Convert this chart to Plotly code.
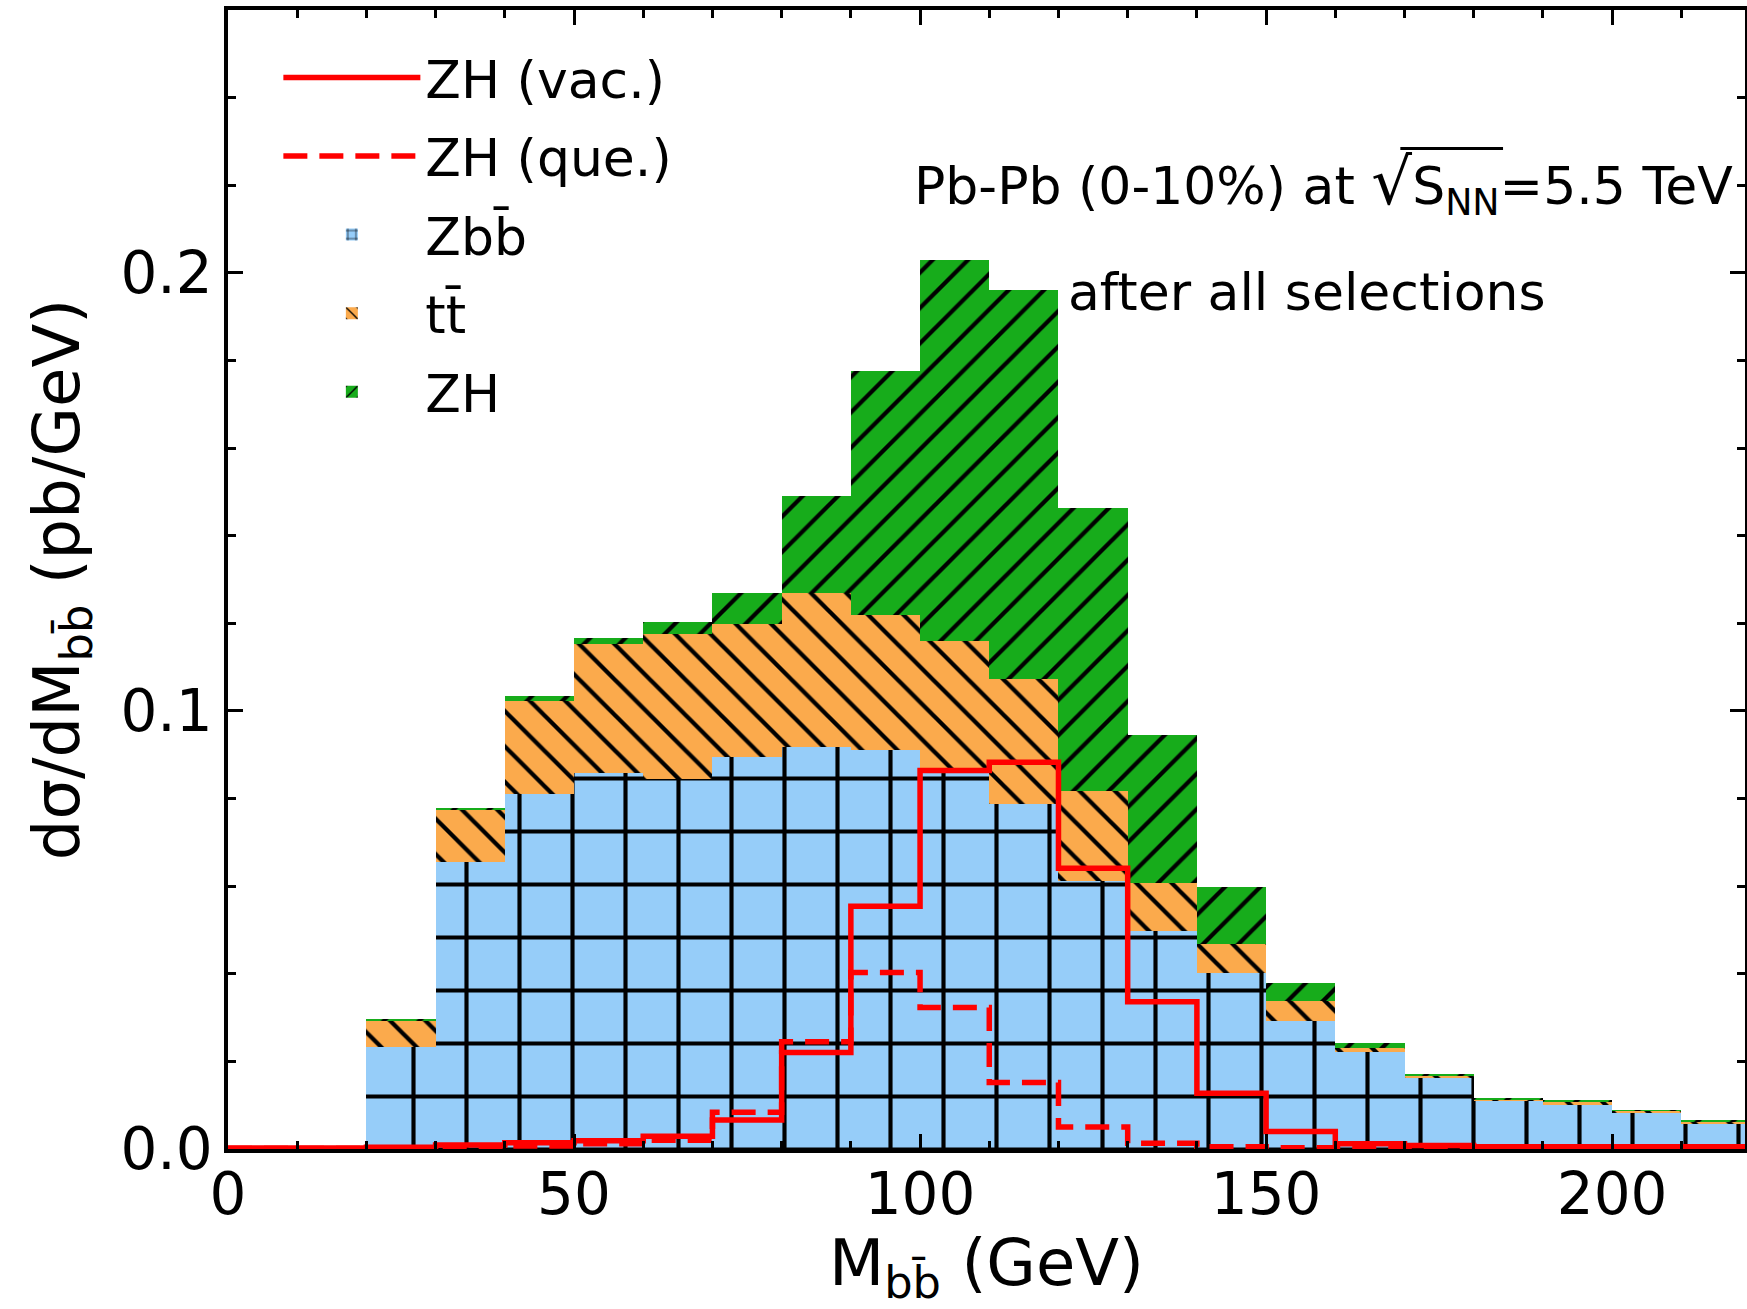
import plotly.graph_objects as go

# ---------------- data ----------------
bin_edges = [0, 10, 20, 30, 40, 50, 60, 70, 80, 90, 100, 110, 120, 130, 140, 150,
             160, 170, 180, 190, 200, 210, 220]

# stacked components (pb/GeV), bottom to top
zbb = [0.0, 0.0, 0.0232, 0.0656, 0.0811, 0.0859, 0.0845, 0.0894, 0.0917, 0.0910, 0.0866,
       0.0788, 0.0611, 0.0498, 0.0401, 0.0292, 0.0222, 0.0164, 0.0110, 0.0100, 0.0082, 0.0059]
ttbar = [0.0, 0.0, 0.0062, 0.0118, 0.0211, 0.0293, 0.0331, 0.0304, 0.0352, 0.0308, 0.0294,
         0.0285, 0.0207, 0.0109, 0.0067, 0.0046, 0.0008, 0.0004, 0.0003, 0.0009, 0.0005, 0.0004]
zh = [0.0, 0.0, 0.0002, 0.0005, 0.0011, 0.0015, 0.0028, 0.0072, 0.0222, 0.0558, 0.0870,
      0.0888, 0.0646, 0.0338, 0.0130, 0.0042, 0.0012, 0.0003, 0.0003, 0.0001, 0.0001, 0.0001]

# ZH signal curves
zh_vac = [0.0002, 0.0002, 0.0004, 0.0009, 0.0014, 0.0019, 0.0029, 0.0066, 0.0220, 0.0554,
          0.0864, 0.0883, 0.0641, 0.0336, 0.0127, 0.0040, 0.0012, 0.0008, 0.0005, 0.0005,
          0.0005, 0.0005]
zh_que = [0.0001, 0.0001, 0.0002, 0.0004, 0.0007, 0.0012, 0.0020, 0.0084, 0.0245, 0.0403,
          0.0323, 0.0152, 0.0050, 0.0013, 0.0005, 0.0003, 0.0002, 0.0001, 0.0001, 0.0001,
          0.0001, 0.0001]

x_tick_vals = [0, 50, 100, 150, 200]
x_tick_text = ["0", "50", "100", "150", "200"]
y_tick_vals = [0.0, 0.1, 0.2]
y_tick_text = ["0.0", "0.1", "0.2"]

# ---------------- derived for plotting ----------------
centers = [(a + b) / 2 for a, b in zip(bin_edges[:-1], bin_edges[1:])]
widths = [b - a for a, b in zip(bin_edges[:-1], bin_edges[1:])]

FONT = "DejaVu Sans"
BLUE = "#96CDF9"
ORANGE = "#FBAA4C"
GREEN = "#17AC1B"
X_RANGE = [0, 219.2]
Y_RANGE = [0, 0.26]

fig = go.Figure()

fig.add_trace(go.Bar(
    x=centers, y=zbb, width=widths, name="Zbb\u0304",
    marker=dict(color=BLUE, line=dict(width=0),
                pattern=dict(shape="+", fgcolor="black", bgcolor=BLUE,
                             size=53, solidity=0.15, fillmode="replace")),
    legendrank=3, legendgroup="g3",
))
fig.add_trace(go.Bar(
    x=centers, y=ttbar, width=widths, name="tt\u0304",
    marker=dict(color=ORANGE, line=dict(width=0),
                pattern=dict(shape="\\", fgcolor="black", bgcolor=ORANGE,
                             size=25, solidity=0.17, fillmode="replace")),
    legendrank=4, legendgroup="g4",
))
fig.add_trace(go.Bar(
    x=centers, y=zh, width=widths, name="ZH",
    marker=dict(color=GREEN, line=dict(width=0),
                pattern=dict(shape="/", fgcolor="black", bgcolor=GREEN,
                             size=25, solidity=0.17, fillmode="replace")),
    legendrank=5, legendgroup="g5",
))

fig.add_trace(go.Scatter(
    x=bin_edges, y=zh_vac + [zh_vac[-1]], mode="lines", name="ZH (vac.)",
    line=dict(color="#FF0000", width=5.5, shape="hv"),
    legendrank=1, legendgroup="g1",
))
fig.add_trace(go.Scatter(
    x=bin_edges, y=zh_que + [zh_que[-1]], mode="lines", name="ZH (que.)",
    line=dict(color="#FF0000", width=5.5, shape="hv", dash="24px,12px"),
    legendrank=2, legendgroup="g2",
))

axis_common = dict(
    showline=True, linewidth=3.5, linecolor="black", mirror="allticks",
    ticks="inside", ticklen=15, tickwidth=3, tickcolor="black",
    showgrid=False, zeroline=False, automargin=False,
    tickfont=dict(family=FONT, size=58, color="black"),
)

fig.update_layout(
    template="none",
    width=1747, height=1309,
    margin=dict(l=228, r=2, t=10, b=160),
    paper_bgcolor="white", plot_bgcolor="white",
    barmode="stack", bargap=0,
    font=dict(family=FONT, color="black"),
    xaxis=dict(
        range=X_RANGE, tickvals=x_tick_vals, ticktext=x_tick_text,
        minor=dict(ticks="inside", ticklen=8, tickwidth=2.5, tickcolor="black",
                   dtick=10, tick0=0),
        title=dict(text="M<sub>bb\u0304</sub> (GeV)", font=dict(family=FONT, size=64),
                   standoff=21),
        ticklabelstandoff=-8,
        **axis_common,
    ),
    yaxis=dict(
        range=Y_RANGE, tickvals=y_tick_vals, ticktext=y_tick_text,
        minor=dict(ticks="inside", ticklen=8, tickwidth=2.5, tickcolor="black",
                   dtick=0.02, tick0=0),
        title=dict(text="d\u03c3/dM<sub>bb\u0304</sub> (pb/GeV)",
                   font=dict(family=FONT, size=64), standoff=21),
        ticklabelstandoff=0,
        **axis_common,
    ),
    legend=dict(
        x=0.0332, y=0.9762, xanchor="left", yanchor="top",
        font=dict(family=FONT, size=52, color="black"),
        bgcolor="rgba(0,0,0,0)", borderwidth=0,
        traceorder="grouped", tracegroupgap=8, itemwidth=137,
    ),
    showlegend=True,
)

fig.add_annotation(
    xref="paper", yref="paper", x=0.9934, y=0.8465, xanchor="right", yanchor="middle",
    text="Pb-Pb (0-10%) at <span style=\"font-size:64px\">\u221a</span>S<sub>NN</sub>=5.5 TeV",
    showarrow=False, font=dict(family=FONT, size=52, color="black"),
)
# vinculum of the square root over S_NN
fig.add_shape(
    type="line", xref="paper", yref="paper",
    x0=0.7728, x1=0.8405, y0=0.8785, y1=0.8785,
    line=dict(color="black", width=3),
)
fig.add_annotation(
    xref="paper", yref="paper", x=0.5524, y=0.7524, xanchor="left", yanchor="middle",
    text="after all selections",
    showarrow=False, font=dict(family=FONT, size=52, color="black"),
)

fig.write_html(
    "out.html",
    config={"displayModeBar": False},
    post_script="document.body.style.margin='0';document.body.style.overflow='hidden';",
)
